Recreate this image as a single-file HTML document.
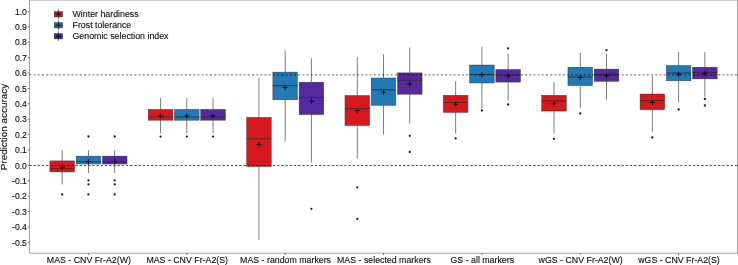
<!DOCTYPE html>
<html><head><meta charset="utf-8"><title>Prediction accuracy</title>
<style>html,body{margin:0;padding:0;background:#fff;width:738px;height:265px;overflow:hidden}svg text{font-family:"Liberation Sans",sans-serif}</style></head>
<body>
<svg width="738" height="265" viewBox="0 0 738 265" style="display:block;position:absolute;left:0;top:0">
<rect x="0" y="0" width="738" height="265" fill="#fff"/>
<rect x="29.5" y="0.0" width="708.0" height="253.2" fill="none" stroke="#a3a3a3" stroke-width="1"/>
<line x1="27.7" x2="29.5" y1="242.40" y2="242.40" stroke="#555" stroke-width="0.8"/>
<text x="26.9" y="245.50" font-size="8.6" text-anchor="end" fill="#111" stroke="#111" stroke-width="0.13">-0.5</text>
<line x1="27.7" x2="29.5" y1="227.00" y2="227.00" stroke="#555" stroke-width="0.8"/>
<text x="26.9" y="230.10" font-size="8.6" text-anchor="end" fill="#111" stroke="#111" stroke-width="0.13">-0.4</text>
<line x1="27.7" x2="29.5" y1="211.60" y2="211.60" stroke="#555" stroke-width="0.8"/>
<text x="26.9" y="214.70" font-size="8.6" text-anchor="end" fill="#111" stroke="#111" stroke-width="0.13">-0.3</text>
<line x1="27.7" x2="29.5" y1="196.20" y2="196.20" stroke="#555" stroke-width="0.8"/>
<text x="26.9" y="199.30" font-size="8.6" text-anchor="end" fill="#111" stroke="#111" stroke-width="0.13">-0.2</text>
<line x1="27.7" x2="29.5" y1="180.80" y2="180.80" stroke="#555" stroke-width="0.8"/>
<text x="26.9" y="183.90" font-size="8.6" text-anchor="end" fill="#111" stroke="#111" stroke-width="0.13">-0.1</text>
<line x1="27.7" x2="29.5" y1="165.40" y2="165.40" stroke="#555" stroke-width="0.8"/>
<text x="26.9" y="168.50" font-size="8.6" text-anchor="end" fill="#111" stroke="#111" stroke-width="0.13">0.0</text>
<line x1="27.7" x2="29.5" y1="150.00" y2="150.00" stroke="#555" stroke-width="0.8"/>
<text x="26.9" y="153.10" font-size="8.6" text-anchor="end" fill="#111" stroke="#111" stroke-width="0.13">0.1</text>
<line x1="27.7" x2="29.5" y1="134.60" y2="134.60" stroke="#555" stroke-width="0.8"/>
<text x="26.9" y="137.70" font-size="8.6" text-anchor="end" fill="#111" stroke="#111" stroke-width="0.13">0.2</text>
<line x1="27.7" x2="29.5" y1="119.20" y2="119.20" stroke="#555" stroke-width="0.8"/>
<text x="26.9" y="122.30" font-size="8.6" text-anchor="end" fill="#111" stroke="#111" stroke-width="0.13">0.3</text>
<line x1="27.7" x2="29.5" y1="103.80" y2="103.80" stroke="#555" stroke-width="0.8"/>
<text x="26.9" y="106.90" font-size="8.6" text-anchor="end" fill="#111" stroke="#111" stroke-width="0.13">0.4</text>
<line x1="27.7" x2="29.5" y1="88.40" y2="88.40" stroke="#555" stroke-width="0.8"/>
<text x="26.9" y="91.50" font-size="8.6" text-anchor="end" fill="#111" stroke="#111" stroke-width="0.13">0.5</text>
<line x1="27.7" x2="29.5" y1="73.00" y2="73.00" stroke="#555" stroke-width="0.8"/>
<text x="26.9" y="76.10" font-size="8.6" text-anchor="end" fill="#111" stroke="#111" stroke-width="0.13">0.6</text>
<line x1="27.7" x2="29.5" y1="57.60" y2="57.60" stroke="#555" stroke-width="0.8"/>
<text x="26.9" y="60.70" font-size="8.6" text-anchor="end" fill="#111" stroke="#111" stroke-width="0.13">0.7</text>
<line x1="27.7" x2="29.5" y1="42.20" y2="42.20" stroke="#555" stroke-width="0.8"/>
<text x="26.9" y="45.30" font-size="8.6" text-anchor="end" fill="#111" stroke="#111" stroke-width="0.13">0.8</text>
<line x1="27.7" x2="29.5" y1="26.80" y2="26.80" stroke="#555" stroke-width="0.8"/>
<text x="26.9" y="29.90" font-size="8.6" text-anchor="end" fill="#111" stroke="#111" stroke-width="0.13">0.9</text>
<line x1="27.7" x2="29.5" y1="11.40" y2="11.40" stroke="#555" stroke-width="0.8"/>
<text x="26.9" y="14.50" font-size="8.6" text-anchor="end" fill="#111" stroke="#111" stroke-width="0.13">1.0</text>
<line x1="88.45" x2="88.45" y1="253.2" y2="255.0" stroke="#555" stroke-width="0.8"/>
<text x="88.85" y="263.0" font-size="8.8" text-anchor="middle" fill="#111" stroke="#111" stroke-width="0.13">MAS - CNV Fr-A2(W)</text>
<line x1="186.81" x2="186.81" y1="253.2" y2="255.0" stroke="#555" stroke-width="0.8"/>
<text x="187.21" y="263.0" font-size="8.8" text-anchor="middle" fill="#111" stroke="#111" stroke-width="0.13">MAS - CNV Fr-A2(S)</text>
<line x1="285.17" x2="285.17" y1="253.2" y2="255.0" stroke="#555" stroke-width="0.8"/>
<text x="285.57" y="263.0" font-size="8.8" text-anchor="middle" fill="#111" stroke="#111" stroke-width="0.13">MAS - random markers</text>
<line x1="383.53" x2="383.53" y1="253.2" y2="255.0" stroke="#555" stroke-width="0.8"/>
<text x="383.93" y="263.0" font-size="8.8" text-anchor="middle" fill="#111" stroke="#111" stroke-width="0.13">MAS - selected markers</text>
<line x1="481.89" x2="481.89" y1="253.2" y2="255.0" stroke="#555" stroke-width="0.8"/>
<text x="482.29" y="263.0" font-size="8.8" text-anchor="middle" fill="#111" stroke="#111" stroke-width="0.13">GS - all markers</text>
<line x1="580.25" x2="580.25" y1="253.2" y2="255.0" stroke="#555" stroke-width="0.8"/>
<text x="580.65" y="263.0" font-size="8.8" text-anchor="middle" fill="#111" stroke="#111" stroke-width="0.13">wGS - CNV Fr-A2(W)</text>
<line x1="678.61" x2="678.61" y1="253.2" y2="255.0" stroke="#555" stroke-width="0.8"/>
<text x="679.01" y="263.0" font-size="8.8" text-anchor="middle" fill="#111" stroke="#111" stroke-width="0.13">wGS - CNV Fr-A2(S)</text>
<text transform="translate(7.3,127.0) rotate(-90)" font-size="9.4" textLength="86.6" lengthAdjust="spacingAndGlyphs" text-anchor="middle" fill="#111" stroke="#111" stroke-width="0.13">Prediction accuracy</text>
<line x1="62.20" x2="62.20" y1="150.1" y2="160.9" stroke="#2b2b2b" stroke-width="0.62"/>
<line x1="62.20" x2="62.20" y1="171.9" y2="184.4" stroke="#2b2b2b" stroke-width="0.62"/>
<rect x="49.90" y="160.9" width="24.6" height="11.00" fill="#d7191e" stroke="#2b2b2b" stroke-width="0.45" stroke-opacity="0.9"/>
<line x1="49.90" x2="74.50" y1="168.7" y2="168.7" stroke="#2b2b2b" stroke-width="1.0" stroke-opacity="0.8"/>
<circle cx="62.20" cy="194.4" r="1.15" fill="#1a1a1a"/>
<line x1="88.45" x2="88.45" y1="150.1" y2="156.1" stroke="#2b2b2b" stroke-width="0.62"/>
<line x1="88.45" x2="88.45" y1="164.0" y2="173.0" stroke="#2b2b2b" stroke-width="0.62"/>
<rect x="76.15" y="156.1" width="24.6" height="7.90" fill="#2179b5" stroke="#2b2b2b" stroke-width="0.45" stroke-opacity="0.9"/>
<line x1="76.15" x2="100.75" y1="161.6" y2="161.6" stroke="#2b2b2b" stroke-width="1.0" stroke-opacity="0.8"/>
<circle cx="88.45" cy="136.5" r="1.15" fill="#1a1a1a"/>
<circle cx="88.45" cy="180.3" r="1.15" fill="#1a1a1a"/>
<circle cx="88.45" cy="184.4" r="1.15" fill="#1a1a1a"/>
<circle cx="88.45" cy="194.4" r="1.15" fill="#1a1a1a"/>
<line x1="114.70" x2="114.70" y1="150.1" y2="156.1" stroke="#2b2b2b" stroke-width="0.62"/>
<line x1="114.70" x2="114.70" y1="164.0" y2="173.0" stroke="#2b2b2b" stroke-width="0.62"/>
<rect x="102.40" y="156.1" width="24.6" height="7.90" fill="#562a9e" stroke="#2b2b2b" stroke-width="0.45" stroke-opacity="0.9"/>
<line x1="102.40" x2="127.00" y1="161.6" y2="161.6" stroke="#2b2b2b" stroke-width="1.0" stroke-opacity="0.8"/>
<circle cx="114.70" cy="136.5" r="1.15" fill="#1a1a1a"/>
<circle cx="114.70" cy="180.3" r="1.15" fill="#1a1a1a"/>
<circle cx="114.70" cy="184.4" r="1.15" fill="#1a1a1a"/>
<circle cx="114.70" cy="194.4" r="1.15" fill="#1a1a1a"/>
<line x1="160.56" x2="160.56" y1="98.1" y2="109.4" stroke="#2b2b2b" stroke-width="0.62"/>
<line x1="160.56" x2="160.56" y1="120.2" y2="133.4" stroke="#2b2b2b" stroke-width="0.62"/>
<rect x="148.26" y="109.4" width="24.6" height="10.80" fill="#d7191e" stroke="#2b2b2b" stroke-width="0.45" stroke-opacity="0.9"/>
<line x1="148.26" x2="172.86" y1="117.0" y2="117.0" stroke="#2b2b2b" stroke-width="1.0" stroke-opacity="0.8"/>
<circle cx="160.56" cy="136.6" r="1.15" fill="#1a1a1a"/>
<line x1="186.81" x2="186.81" y1="98.1" y2="109.4" stroke="#2b2b2b" stroke-width="0.62"/>
<line x1="186.81" x2="186.81" y1="120.2" y2="133.4" stroke="#2b2b2b" stroke-width="0.62"/>
<rect x="174.51" y="109.4" width="24.6" height="10.80" fill="#2179b5" stroke="#2b2b2b" stroke-width="0.45" stroke-opacity="0.9"/>
<line x1="174.51" x2="199.11" y1="117.0" y2="117.0" stroke="#2b2b2b" stroke-width="1.0" stroke-opacity="0.8"/>
<circle cx="186.81" cy="136.6" r="1.15" fill="#1a1a1a"/>
<line x1="213.06" x2="213.06" y1="98.1" y2="109.4" stroke="#2b2b2b" stroke-width="0.62"/>
<line x1="213.06" x2="213.06" y1="120.2" y2="133.4" stroke="#2b2b2b" stroke-width="0.62"/>
<rect x="200.76" y="109.4" width="24.6" height="10.80" fill="#562a9e" stroke="#2b2b2b" stroke-width="0.45" stroke-opacity="0.9"/>
<line x1="200.76" x2="225.36" y1="117.0" y2="117.0" stroke="#2b2b2b" stroke-width="1.0" stroke-opacity="0.8"/>
<circle cx="213.06" cy="136.6" r="1.15" fill="#1a1a1a"/>
<line x1="258.92" x2="258.92" y1="77.7" y2="117.4" stroke="#2b2b2b" stroke-width="0.62"/>
<line x1="258.92" x2="258.92" y1="166.5" y2="239.7" stroke="#2b2b2b" stroke-width="0.62"/>
<rect x="246.62" y="117.4" width="24.6" height="49.10" fill="#d7191e" stroke="#2b2b2b" stroke-width="0.45" stroke-opacity="0.9"/>
<line x1="246.62" x2="271.22" y1="138.8" y2="138.8" stroke="#2b2b2b" stroke-width="1.0" stroke-opacity="0.8"/>
<line x1="285.17" x2="285.17" y1="50.4" y2="72.1" stroke="#2b2b2b" stroke-width="0.62"/>
<line x1="285.17" x2="285.17" y1="99.8" y2="141.6" stroke="#2b2b2b" stroke-width="0.62"/>
<rect x="272.87" y="72.1" width="24.6" height="27.70" fill="#2179b5" stroke="#2b2b2b" stroke-width="0.45" stroke-opacity="0.9"/>
<line x1="272.87" x2="297.47" y1="85.7" y2="85.7" stroke="#2b2b2b" stroke-width="1.0" stroke-opacity="0.8"/>
<line x1="311.42" x2="311.42" y1="58.3" y2="82.2" stroke="#2b2b2b" stroke-width="0.62"/>
<line x1="311.42" x2="311.42" y1="114.5" y2="162.7" stroke="#2b2b2b" stroke-width="0.62"/>
<rect x="299.12" y="82.2" width="24.6" height="32.30" fill="#562a9e" stroke="#2b2b2b" stroke-width="0.45" stroke-opacity="0.9"/>
<line x1="299.12" x2="323.72" y1="97.4" y2="97.4" stroke="#2b2b2b" stroke-width="1.0" stroke-opacity="0.8"/>
<circle cx="311.42" cy="208.8" r="1.15" fill="#1a1a1a"/>
<line x1="357.28" x2="357.28" y1="57.0" y2="95.5" stroke="#2b2b2b" stroke-width="0.62"/>
<line x1="357.28" x2="357.28" y1="125.5" y2="158.7" stroke="#2b2b2b" stroke-width="0.62"/>
<rect x="344.98" y="95.5" width="24.6" height="30.00" fill="#d7191e" stroke="#2b2b2b" stroke-width="0.45" stroke-opacity="0.9"/>
<line x1="344.98" x2="369.58" y1="108.7" y2="108.7" stroke="#2b2b2b" stroke-width="1.0" stroke-opacity="0.8"/>
<circle cx="357.28" cy="187.3" r="1.15" fill="#1a1a1a"/>
<circle cx="357.28" cy="218.8" r="1.15" fill="#1a1a1a"/>
<line x1="383.53" x2="383.53" y1="54.2" y2="78.0" stroke="#2b2b2b" stroke-width="0.62"/>
<line x1="383.53" x2="383.53" y1="105.3" y2="134.5" stroke="#2b2b2b" stroke-width="0.62"/>
<rect x="371.23" y="78.0" width="24.6" height="27.30" fill="#2179b5" stroke="#2b2b2b" stroke-width="0.45" stroke-opacity="0.9"/>
<line x1="371.23" x2="395.83" y1="89.8" y2="89.8" stroke="#2b2b2b" stroke-width="1.0" stroke-opacity="0.8"/>
<line x1="409.78" x2="409.78" y1="47.5" y2="72.9" stroke="#2b2b2b" stroke-width="0.62"/>
<line x1="409.78" x2="409.78" y1="94.2" y2="123.6" stroke="#2b2b2b" stroke-width="0.62"/>
<rect x="397.48" y="72.9" width="24.6" height="21.30" fill="#562a9e" stroke="#2b2b2b" stroke-width="0.45" stroke-opacity="0.9"/>
<line x1="397.48" x2="422.08" y1="80.3" y2="80.3" stroke="#2b2b2b" stroke-width="1.0" stroke-opacity="0.8"/>
<circle cx="409.78" cy="135.8" r="1.15" fill="#1a1a1a"/>
<circle cx="409.78" cy="151.9" r="1.15" fill="#1a1a1a"/>
<line x1="455.64" x2="455.64" y1="81.3" y2="95.3" stroke="#2b2b2b" stroke-width="0.62"/>
<line x1="455.64" x2="455.64" y1="112.4" y2="133.7" stroke="#2b2b2b" stroke-width="0.62"/>
<rect x="443.34" y="95.3" width="24.6" height="17.10" fill="#d7191e" stroke="#2b2b2b" stroke-width="0.45" stroke-opacity="0.9"/>
<line x1="443.34" x2="467.94" y1="102.5" y2="102.5" stroke="#2b2b2b" stroke-width="1.0" stroke-opacity="0.8"/>
<circle cx="455.64" cy="138.4" r="1.15" fill="#1a1a1a"/>
<line x1="481.89" x2="481.89" y1="46.6" y2="65.0" stroke="#2b2b2b" stroke-width="0.62"/>
<line x1="481.89" x2="481.89" y1="83.0" y2="108.6" stroke="#2b2b2b" stroke-width="0.62"/>
<rect x="469.59" y="65.0" width="24.6" height="18.00" fill="#2179b5" stroke="#2b2b2b" stroke-width="0.45" stroke-opacity="0.9"/>
<line x1="469.59" x2="494.19" y1="74.4" y2="74.4" stroke="#2b2b2b" stroke-width="1.0" stroke-opacity="0.8"/>
<circle cx="481.89" cy="110.5" r="1.15" fill="#1a1a1a"/>
<line x1="508.14" x2="508.14" y1="53.6" y2="69.5" stroke="#2b2b2b" stroke-width="0.62"/>
<line x1="508.14" x2="508.14" y1="82.1" y2="100.2" stroke="#2b2b2b" stroke-width="0.62"/>
<rect x="495.84" y="69.5" width="24.6" height="12.60" fill="#562a9e" stroke="#2b2b2b" stroke-width="0.45" stroke-opacity="0.9"/>
<line x1="495.84" x2="520.44" y1="75.1" y2="75.1" stroke="#2b2b2b" stroke-width="1.0" stroke-opacity="0.8"/>
<circle cx="508.14" cy="48.3" r="1.15" fill="#1a1a1a"/>
<circle cx="508.14" cy="104.5" r="1.15" fill="#1a1a1a"/>
<line x1="554.00" x2="554.00" y1="82.1" y2="95.3" stroke="#2b2b2b" stroke-width="0.62"/>
<line x1="554.00" x2="554.00" y1="111.0" y2="133.7" stroke="#2b2b2b" stroke-width="0.62"/>
<rect x="541.70" y="95.3" width="24.6" height="15.70" fill="#d7191e" stroke="#2b2b2b" stroke-width="0.45" stroke-opacity="0.9"/>
<line x1="541.70" x2="566.30" y1="100.9" y2="100.9" stroke="#2b2b2b" stroke-width="1.0" stroke-opacity="0.8"/>
<circle cx="554.00" cy="138.8" r="1.15" fill="#1a1a1a"/>
<line x1="580.25" x2="580.25" y1="53.0" y2="67.2" stroke="#2b2b2b" stroke-width="0.62"/>
<line x1="580.25" x2="580.25" y1="85.6" y2="108.2" stroke="#2b2b2b" stroke-width="0.62"/>
<rect x="567.95" y="67.2" width="24.6" height="18.40" fill="#2179b5" stroke="#2b2b2b" stroke-width="0.45" stroke-opacity="0.9"/>
<line x1="567.95" x2="592.55" y1="77.0" y2="77.0" stroke="#2b2b2b" stroke-width="1.0" stroke-opacity="0.8"/>
<circle cx="580.25" cy="113.5" r="1.15" fill="#1a1a1a"/>
<line x1="606.50" x2="606.50" y1="53.6" y2="69.1" stroke="#2b2b2b" stroke-width="0.62"/>
<line x1="606.50" x2="606.50" y1="81.3" y2="99.4" stroke="#2b2b2b" stroke-width="0.62"/>
<rect x="594.20" y="69.1" width="24.6" height="12.20" fill="#562a9e" stroke="#2b2b2b" stroke-width="0.45" stroke-opacity="0.9"/>
<line x1="594.20" x2="618.80" y1="74.7" y2="74.7" stroke="#2b2b2b" stroke-width="1.0" stroke-opacity="0.8"/>
<circle cx="606.50" cy="50.2" r="1.15" fill="#1a1a1a"/>
<line x1="652.36" x2="652.36" y1="76.0" y2="94.0" stroke="#2b2b2b" stroke-width="0.62"/>
<line x1="652.36" x2="652.36" y1="109.7" y2="131.8" stroke="#2b2b2b" stroke-width="0.62"/>
<rect x="640.06" y="94.0" width="24.6" height="15.70" fill="#d7191e" stroke="#2b2b2b" stroke-width="0.45" stroke-opacity="0.9"/>
<line x1="640.06" x2="664.66" y1="100.6" y2="100.6" stroke="#2b2b2b" stroke-width="1.0" stroke-opacity="0.8"/>
<circle cx="652.36" cy="137.5" r="1.15" fill="#1a1a1a"/>
<line x1="678.61" x2="678.61" y1="52.1" y2="65.5" stroke="#2b2b2b" stroke-width="0.62"/>
<line x1="678.61" x2="678.61" y1="80.8" y2="102.5" stroke="#2b2b2b" stroke-width="0.62"/>
<rect x="666.31" y="65.5" width="24.6" height="15.30" fill="#2179b5" stroke="#2b2b2b" stroke-width="0.45" stroke-opacity="0.9"/>
<line x1="666.31" x2="690.91" y1="73.0" y2="73.0" stroke="#2b2b2b" stroke-width="1.0" stroke-opacity="0.8"/>
<circle cx="678.61" cy="109.5" r="1.15" fill="#1a1a1a"/>
<line x1="704.86" x2="704.86" y1="52.1" y2="67.2" stroke="#2b2b2b" stroke-width="0.62"/>
<line x1="704.86" x2="704.86" y1="78.9" y2="96.8" stroke="#2b2b2b" stroke-width="0.62"/>
<rect x="692.56" y="67.2" width="24.6" height="11.70" fill="#562a9e" stroke="#2b2b2b" stroke-width="0.45" stroke-opacity="0.9"/>
<line x1="692.56" x2="717.16" y1="72.4" y2="72.4" stroke="#2b2b2b" stroke-width="1.0" stroke-opacity="0.8"/>
<circle cx="704.86" cy="99.0" r="1.15" fill="#1a1a1a"/>
<circle cx="704.86" cy="105.5" r="1.15" fill="#1a1a1a"/>
<line x1="29.25" x2="737.5" y1="165.5" y2="165.5" stroke="#2a2a2a" stroke-width="0.8" stroke-dasharray="2.4 1.8"/>
<line x1="29.4" x2="737.5" y1="74.9" y2="74.9" stroke="#000" stroke-opacity="0.5" stroke-width="1.4" stroke-dasharray="2 2.2"/>
<path d="M59.70 167.6H64.70M62.20 165.1V170.1" stroke="#000" stroke-width="0.9" fill="none"/>
<path d="M85.95 161.6H90.95M88.45 159.1V164.1" stroke="#000" stroke-width="0.9" fill="none"/>
<path d="M112.20 161.6H117.20M114.70 159.1V164.1" stroke="#000" stroke-width="0.9" fill="none"/>
<path d="M158.06 116.0H163.06M160.56 113.5V118.5" stroke="#000" stroke-width="0.9" fill="none"/>
<path d="M184.31 116.0H189.31M186.81 113.5V118.5" stroke="#000" stroke-width="0.9" fill="none"/>
<path d="M210.56 116.0H215.56M213.06 113.5V118.5" stroke="#000" stroke-width="0.9" fill="none"/>
<path d="M256.42 144.4H261.42M258.92 141.9V146.9" stroke="#000" stroke-width="0.9" fill="none"/>
<path d="M282.67 87.5H287.67M285.17 85.0V90.0" stroke="#000" stroke-width="0.9" fill="none"/>
<path d="M308.92 101.3H313.92M311.42 98.8V103.8" stroke="#000" stroke-width="0.9" fill="none"/>
<path d="M354.78 110.6H359.78M357.28 108.1V113.1" stroke="#000" stroke-width="0.9" fill="none"/>
<path d="M381.03 92.3H386.03M383.53 89.8V94.8" stroke="#000" stroke-width="0.9" fill="none"/>
<path d="M407.28 84.2H412.28M409.78 81.7V86.7" stroke="#000" stroke-width="0.9" fill="none"/>
<path d="M453.14 104.3H458.14M455.64 101.8V106.8" stroke="#000" stroke-width="0.9" fill="none"/>
<path d="M479.39 74.7H484.39M481.89 72.2V77.2" stroke="#000" stroke-width="0.9" fill="none"/>
<path d="M505.64 76.0H510.64M508.14 73.5V78.5" stroke="#000" stroke-width="0.9" fill="none"/>
<path d="M551.50 103.8H556.50M554.00 101.3V106.3" stroke="#000" stroke-width="0.9" fill="none"/>
<path d="M577.75 77.5H582.75M580.25 75.0V80.0" stroke="#000" stroke-width="0.9" fill="none"/>
<path d="M604.00 75.7H609.00M606.50 73.2V78.2" stroke="#000" stroke-width="0.9" fill="none"/>
<path d="M649.86 102.5H654.86M652.36 100.0V105.0" stroke="#000" stroke-width="0.9" fill="none"/>
<path d="M676.11 74.2H681.11M678.61 71.7V76.7" stroke="#000" stroke-width="0.9" fill="none"/>
<path d="M702.36 73.6H707.36M704.86 71.1V76.1" stroke="#000" stroke-width="0.9" fill="none"/>
<line x1="58.4" x2="58.4" y1="9.40" y2="18.90" stroke="#2b2b2b" stroke-width="0.7"/>
<rect x="54.20" y="11.55" width="8.4" height="5.4" fill="#c51c24" stroke="#2b2b2b" stroke-width="0.4"/>
<line x1="54.20" x2="62.60" y1="14.30" y2="14.30" stroke="#2b2b2b" stroke-width="0.8" stroke-opacity="0.8"/>
<path d="M56.00 14.30H60.80M58.4 11.80V16.70" stroke="#000" stroke-width="0.8" fill="none"/>
<text x="72.5" y="17.40" font-size="8.82" fill="#111" stroke="#111" stroke-width="0.13">Winter hardiness</text>
<line x1="58.4" x2="58.4" y1="20.40" y2="29.90" stroke="#2b2b2b" stroke-width="0.7"/>
<rect x="54.20" y="22.55" width="8.4" height="5.4" fill="#226fa6" stroke="#2b2b2b" stroke-width="0.4"/>
<line x1="54.20" x2="62.60" y1="25.30" y2="25.30" stroke="#2b2b2b" stroke-width="0.8" stroke-opacity="0.8"/>
<path d="M56.00 25.30H60.80M58.4 22.80V27.70" stroke="#000" stroke-width="0.8" fill="none"/>
<text x="72.5" y="28.40" font-size="8.82" fill="#111" stroke="#111" stroke-width="0.13">Frost tolerance</text>
<line x1="58.4" x2="58.4" y1="31.40" y2="40.90" stroke="#2b2b2b" stroke-width="0.7"/>
<rect x="54.20" y="33.55" width="8.4" height="5.4" fill="#4e2796" stroke="#2b2b2b" stroke-width="0.4"/>
<line x1="54.20" x2="62.60" y1="36.30" y2="36.30" stroke="#2b2b2b" stroke-width="0.8" stroke-opacity="0.8"/>
<path d="M56.00 36.30H60.80M58.4 33.80V38.70" stroke="#000" stroke-width="0.8" fill="none"/>
<text x="72.5" y="39.40" font-size="8.82" fill="#111" stroke="#111" stroke-width="0.13">Genomic selection index</text>
</svg>
</body></html>
